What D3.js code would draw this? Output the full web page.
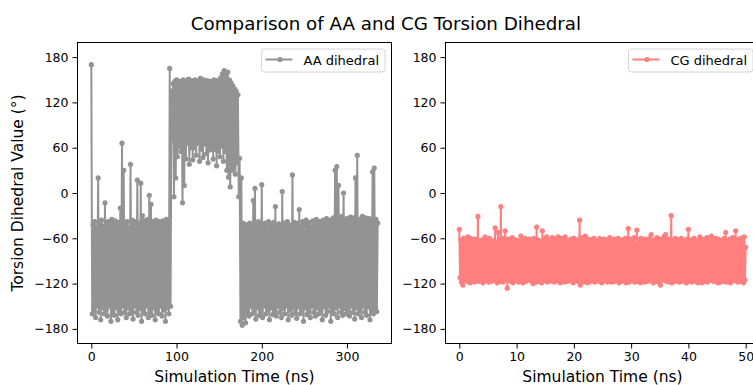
<!DOCTYPE html>
<html>
<head>
<meta charset="utf-8">
<script src="https://cdn.jsdelivr.net/npm/d3@7/dist/d3.min.js"></script>
<style>
  html, body { margin: 0; padding: 0; background: #fff; }
  svg { display: block; }
  text { font-family: "DejaVu Sans", sans-serif; fill: #000; }
</style>
</head>
<body>
<svg id="chart" width="753" height="385"></svg>
<script>
// ---- data ----
const titleText = "Comparison of AA and CG Torsion Dihedral";
const xLabel = "Simulation Time (ns)";
const yLabel = "Torsion Dihedral Value (°)";
const seriesNames = ["AA dihedral", "CG dihedral"];

const aaStep = 1;      // ns between samples
const aaValues = [
  170,-160,-42,-155,-38,-165,-45,-150,20,-158,-40,-168,-36,-152,-44,-160,-13,-155,-40,-163,
  -38,-150,-42,-170,-35,-157,-40,-162,-37,-152,-43,-168,-39,-155,-20,-160,66,-150,30,-158,
  -42,-165,-38,-152,-45,-160,38,-155,-36,-167,-41,-150,-38,-158,17,-162,-40,-153,13,-170,
  -30,-155,-37,-160,-42,-150,-35,-165,-3,-157,-15,-162,-38,-152,-40,-168,-36,-155,-41,-160,
  -38,-150,-44,-163,-37,-155,-40,-170,-35,-152,-39,-160,165,-150,135,70,145,-5,148,20,
  150,48,144,62,148,55,146,-13,150,10,143,45,148,66,151,38,146,60,149,44,
  147,60,150,50,145,66,148,42,152,58,146,47,150,65,147,52,149,40,145,57,
  148,62,144,45,150,58,146,36,149,55,147,48,153,62,158,42,162,55,156,30,
  160,21,150,8,146,30,142,35,138,25,135,40,130,-5,46,-170,20,-175,-40,-165,
  -45,-172,-42,-158,-47,-163,-40,-150,-44,-160,-10,-155,6,-167,-43,-152,-38,-162,-41,-157,
  11,-165,-44,-150,-40,-160,-46,-155,-38,-168,-42,-152,-45,-161,-39,-156,-18,-163,-43,-150,
  -41,-158,-46,-165,2,-153,-40,-160,-44,-150,-38,-168,-42,-155,-45,-162,24,-152,-39,-159,
  -43,-166,-40,-151,-22,-160,-44,-155,-38,-170,-41,-152,-36,-161,-42,-156,-39,-165,-45,-150,
  -37,-158,-41,-163,-35,-152,-40,-160,-38,-155,-43,-168,-36,-151,-39,-162,-34,-157,-40,-150,
  -36,-170,-38,-155,-33,-160,30,-152,35,-165,10,-150,-35,-158,-31,-162,0,-153,-37,-160,
  -34,-155,-39,-163,-32,-150,-36,-158,-33,-167,20,-152,50,-160,-35,-155,-38,-165,-31,-150,
  -36,-158,-33,-162,-38,-151,-34,-168,-37,-155,28,-160,33,-152,-35,-157,-40
];

const cgStep = 0.125;  // ns between samples
const cgValues = [
  -48,-112,-62,-118,-66,-122,-60,-115,-64,-110,-68,-117,-58,-113,-63,-119,
  -60,-114,-65,-111,-67,-118,-61,-116,-66,-112,-31,-117,-64,-110,-68,-115,
  -62,-119,-66,-113,-58,-116,-64,-111,-67,-118,-60,-114,-65,-117,-69,-112,
  -63,-116,-46,-112,-66,-119,-52,-114,-62,-117,-18,-111,-65,-118,-60,-113,
  -50,-115,-64,-126,-61,-112,-67,-117,-63,-114,-59,-119,-66,-111,-62,-116,
  -68,-113,-63,-118,-65,-110,-57,-116,-62,-119,-67,-112,-60,-117,-64,-114,
  -66,-111,-61,-116,-69,-113,-63,-120,-60,-115,-65,-118,-45,-112,-62,-117,
  -67,-114,-64,-119,-50,-111,-61,-116,-66,-113,-58,-118,-63,-110,-68,-115,
  -62,-117,-59,-112,-65,-118,-61,-114,-67,-111,-58,-116,-64,-119,-60,-113,
  -66,-115,-62,-118,-58,-112,-65,-117,-63,-110,-68,-116,-61,-113,-64,-119,
  -60,-114,-67,-111,-62,-117,-65,-113,-36,-122,-59,-115,-63,-118,-66,-112,
  -57,-116,-64,-119,-61,-113,-68,-117,-62,-111,-66,-115,-60,-118,-65,-114,
  -63,-112,-67,-117,-60,-114,-64,-119,-66,-111,-61,-116,-68,-113,-62,-118,
  -65,-115,-59,-112,-63,-118,-67,-114,-61,-117,-64,-110,-66,-116,-60,-119,
  -64,-113,-68,-117,-62,-111,-65,-116,-60,-119,-63,-114,-47,-118,-66,-112,
  -61,-116,-65,-113,-59,-118,-67,-111,-49,-117,-62,-114,-66,-119,-60,-112,
  -63,-115,-66,-118,-61,-112,-64,-117,-68,-113,-60,-116,-55,-111,-65,-119,
  -62,-114,-67,-117,-59,-112,-64,-118,-61,-122,-66,-115,-63,-111,-58,-116,
  -55,-113,-64,-118,-61,-111,-66,-116,-30,-119,-62,-114,-65,-117,-60,-112,
  -67,-115,-62,-118,-64,-113,-60,-117,-66,-111,-63,-116,-68,-119,-61,-114,
  -48,-117,-65,-112,-62,-118,-66,-114,-60,-116,-64,-111,-67,-119,-62,-113,
  -58,-116,-63,-119,-66,-112,-61,-117,-65,-114,-59,-118,-64,-111,-67,-115,
  -57,-113,-62,-117,-66,-111,-60,-116,-64,-119,-61,-114,-68,-118,-63,-112,
  -65,-117,-60,-113,-52,-118,-63,-111,-67,-116,-61,-119,-64,-114,-59,-112,
  -62,-116,-50,-113,-66,-118,-61,-112,-64,-117,-60,-114,-67,-119,-58,-115,
  -72
];

const aaXTicks = [0, 100, 200, 300];
const cgXTicks = [0, 10, 20, 30, 40, 50];
const yTicks = [-180, -120, -60, 0, 60, 120, 180];

// ---- layout ----
const svg = d3.select("#chart");
const colors = ["#939393", "#ff7f7f"];
const plotTop = 42, plotBottom = 344;
const panels = [
  { values: aaValues, step: aaStep, ticks: aaXTicks, domain: [-16.8, 352.8], x0: 77, x1: 392, name: seriesNames[0], color: colors[0] },
  { values: cgValues, step: cgStep, ticks: cgXTicks, domain: [-2.5, 52.5], x0: 445, x1: 760, name: seriesNames[1], color: colors[1] }
];
const y = d3.scaleLinear().domain([-200, 200]).range([plotBottom, plotTop]);
const fmt = v => (v < 0 ? "\u2212" + Math.abs(v) : String(v));

svg.append("text")
  .attr("x", 386).attr("y", 30)
  .attr("text-anchor", "middle")
  .style("font-size", "18.3px")
  .text(titleText);

panels.forEach((p, pi) => {
  const x = d3.scaleLinear().domain(p.domain).range([p.x0, p.x1]);
  const g = svg.append("g");
  const clipId = "clip" + pi;
  svg.append("clipPath").attr("id", clipId)
    .append("rect").attr("x", p.x0).attr("y", plotTop).attr("width", p.x1 - p.x0).attr("height", plotBottom - plotTop);

  const data = p.values.map((v, i) => ({ t: i * p.step, v }));
  const plot = g.append("g").attr("clip-path", `url(#${clipId})`);
  plot.append("path")
    .datum(data)
    .attr("fill", "none")
    .attr("stroke", p.color)
    .attr("stroke-width", 2)
    .attr("stroke-linejoin", "round")
    .attr("d", d3.line().x(d => x(d.t)).y(d => y(d.v)));
  plot.selectAll("circle").data(data).enter().append("circle")
    .attr("cx", d => x(d.t)).attr("cy", d => y(d.v)).attr("r", 2.6)
    .attr("fill", p.color);

  // axes
  const xAxis = d3.axisBottom(x).tickValues(p.ticks).tickSize(4.5).tickPadding(4).tickFormat(fmt);
  const gx = g.append("g").attr("transform", `translate(0,${plotBottom})`).call(xAxis);
  const yAxis = d3.axisLeft(y).tickValues(yTicks).tickSize(4.5).tickPadding(4).tickFormat(fmt);
  const gy = g.append("g").attr("transform", `translate(${p.x0},0)`).call(yAxis);
  [gx, gy].forEach(a => {
    a.select(".domain").remove();
    a.selectAll("text").style("font-size", "12.5px").style("font-family", "DejaVu Sans, sans-serif").attr("fill", "#000");
    a.selectAll("line").attr("stroke", "#000").attr("stroke-width", 1);
  });

  // frame
  g.append("rect")
    .attr("x", p.x0 + 0.5).attr("y", plotTop + 0.5)
    .attr("width", p.x1 - p.x0 - 1).attr("height", plotBottom - plotTop - 1)
    .attr("fill", "none").attr("stroke", "#000").attr("stroke-width", 1);

  // x label
  g.append("text")
    .attr("x", (p.x0 + p.x1) / 2).attr("y", 382)
    .attr("text-anchor", "middle")
    .style("font-size", "15.5px")
    .text(xLabel);

  // legend
  const leg = g.append("g");
  const lt = leg.append("text")
    .attr("y", 64.5)
    .style("font-size", "13px")
    .text(p.name);
  const tw = lt.node().getComputedTextLength();
  const bw = tw + 48;
  const bx = p.x1 - 7 - bw;
  leg.insert("rect", "text")
    .attr("x", bx).attr("y", 49).attr("width", bw).attr("height", 23)
    .attr("rx", 3).attr("fill", "#fff").attr("fill-opacity", 0.8)
    .attr("stroke", "#d6d6d6").attr("stroke-width", 1);
  leg.append("line")
    .attr("x1", bx + 4).attr("x2", bx + 31).attr("y1", 59.5).attr("y2", 59.5)
    .attr("stroke", p.color).attr("stroke-width", 2);
  leg.append("circle").attr("cx", bx + 18.5).attr("cy", 59.5).attr("r", 2.6).attr("fill", p.color);
  lt.attr("x", bx + 42);
});

svg.append("text")
  .attr("transform", `translate(22.5,${(plotTop + plotBottom) / 2}) rotate(-90)`)
  .attr("text-anchor", "middle")
  .style("font-size", "15.5px")
  .text(yLabel);
</script>
</body>
</html>
